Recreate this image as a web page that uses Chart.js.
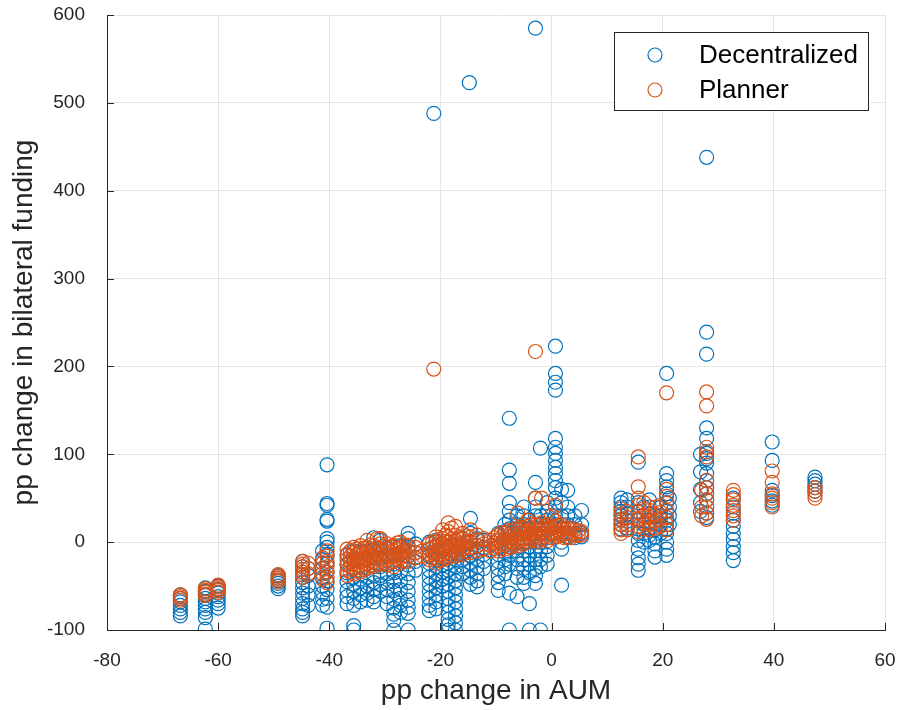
<!DOCTYPE html>
<html>
<head>
<meta charset="utf-8">
<script src="https://cdn.jsdelivr.net/npm/chart.js@4.4.1/dist/chart.umd.min.js"></script>
<style>
  html, body { margin: 0; padding: 0; background: #fff; }
  #wrap { width: 901px; height: 710px; }
</style>
</head>
<body>
<div id="wrap"><canvas id="scatterChart" width="901" height="710"></canvas></div>
<script>
// tick labels
const xTicks = [-80, -60, -40, -20, 0, 20, 40, 60];
const yTicks = [-100, 0, 100, 200, 300, 400, 500, 600];

// Decentralized: column x positions and the y values read in each column
const decColX = [
  -66.8, -62.3, -60.0, -49.2, -44.8, -43.8, -41.2, -40.4,
  -36.8, -35.6, -34.4, -33.2, -32.0, -30.8, -29.6, -28.4, -27.2, -25.8, -24.5,
  -22.0, -21.2, -20.8, -19.6, -18.6, -17.3, -16.0, -14.8, -14.6, -13.4, -12.2,
  -9.6, -8.4, -7.6, -6.2, -5.0, -4.0, -2.9, -2.0, -0.8, 0.7, 1.8, 2.9, 4.2, 5.4,
  12.5, 13.6, 15.6, 16.6, 17.6, 18.6, 19.6, 20.7, 21.2, 26.8, 27.9, 32.7, 39.7, 47.4
];
const decColY = [
  [-60, -64, -68, -72, -76, -80, -84],
  [-52, -56, -60, -64, -68, -72, -76, -80, -86, -99],
  [-50, -54, -58, -62, -66, -70, -75],
  [-38, -41, -44, -47, -50, -53],
  [-22, -28, -34, -40, -46, -52, -58, -64, -70, -76, -80, -84],
  [-30, -38, -50, -60, -72],
  [-10, -20, -30, -40, -50, -58, -65, -72],
  [88, 44, 42, 26, 24, 4, 0, -6, -14, -24, -34, -44, -54, -64, -74, -98],
  [-15, -25, -35, -45, -55, -62, -70],
  [-10, -20, -30, -40, -48, -56, -64, -72, -95, -100],
  [-12, -22, -32, -42, -52, -60, -68],
  [-10, -20, -30, -40, -50, -58, -66],
  [5, -8, -18, -28, -38, -46, -54, -62, -68],
  [2, -8, -18, -28, -38, -48, -56],
  [-6, -16, -26, -36, -46, -54, -62, -70],
  [-5, -15, -25, -35, -45, -55, -65, -75, -82, -89, -100],
  [-4, -14, -24, -34, -44, -54, -64, -72, -80],
  [10, 4, -6, -16, -26, -36, -46, -56, -66, -74, -81, -100],
  [-2, -12, -22, -32],
  [0, -8, -16, -24, -32, -40, -48, -56, -64, -72, -78],
  [488],
  [2, -4, -12, -20, -28, -36, -44, -52, -60, -68, -76],
  [-2, -10, -18, -26, -34, -42, -50],
  [0, -8, -16, -24, -32, -40, -48, -56, -64, -72, -80, -88, -94, -100],
  [-4, -12, -20, -28, -36, -44, -52, -60, -68, -76, -84, -92, -100],
  [4, -4, -12, -20, -28, -36],
  [523],
  [27, 10, 0, -8, -16, -24, -32, -40, -48],
  [4, -4, -12, -20, -28, -36, -44, -51],
  [2, -6, -14, -22, -30],
  [10, 2, -6, -14, -22, -30, -38, -46, -55],
  [20, 12, 4, -4, -12, -20, -28, -36],
  [141, 82, 67, 45, 35, 25, 15, 5, -5, -15, -25, -58, -100],
  [30, 20, 10, 0, -10, -20, -30, -40, -62],
  [40, 30, 20, 10, 0, -10, -20, -30, -40, -47],
  [25, 15, 5, -5, -15, -25, -35, -70, -100],
  [585, 68, 50, 40, 30, 20, 10, 0, -10, -20, -30, -38, -47],
  [107, 30, 20, 10, 0, -10, -20, -28, -100],
  [45, 35, 25, 15, 5, -5, -15, -25],
  [223, 192, 182, 173, 118, 108, 101, 93, 85, 78, 70, 62, 50, 40, 30, 20, 10],
  [60, 45, 30, 20, 10, 0, -8, -49],
  [59, 40, 30, 20, 10, 5],
  [30, 20, 10, 5],
  [36, 20, 10, 6],
  [50, 45, 40, 35, 30, 25, 20, 15],
  [48, 40, 32, 24, 16],
  [91, 45, 35, 25, 15, 10, 2, -8, -18, -25, -32],
  [40, 30, 20, 10, 0],
  [48, 40, 32, 24, 16, 8, 2],
  [30, 22, 14, 6, -2, -10, -17],
  [40, 30, 20, 10],
  [192, 78, 70, 63, 55, 45, 35, 25, 15, 10, 0, -8, -15],
  [50, 40, 30, 20],
  [100, 80, 60, 45, 35],
  [438, 239, 214, 130, 118, 101, 95, 90, 78, 70, 62, 55, 48, 40, 33, 28],
  [50, 40, 33, 25, 18, 10, 3, -5, -12, -21],
  [114, 93, 59, 53, 47, 42],
  [74, 70, 66, 62, 58]
];

// Planner: column x positions and y values
const plnColX = [
  -66.8, -62.3, -60.0, -49.2, -44.8, -43.8, -41.2, -40.4,
  -36.8, -36.2, -35.6, -35.0, -34.4, -33.8, -33.2, -32.6, -32.0, -31.4, -30.8, -30.2,
  -29.6, -29.0, -28.4, -27.8, -27.2, -26.5, -25.8, -24.5, -23.2,
  -22.0, -21.4, -21.2, -20.8, -20.2, -19.6, -19.1, -18.6, -18.0, -17.3, -16.7, -16.0,
  -15.3, -14.6, -13.4, -12.2, -11.0, -10.3,
  -9.6, -9.0, -8.4, -7.8, -7.2, -6.7, -6.1, -5.6, -5.0, -4.3, -3.6, -2.9, -2.4,
  -1.8, -1.3, -0.7, 0.0, 0.7, 1.2, 1.8, 2.3, 2.9, 3.5, 4.2, 4.8, 5.4,
  12.5, 13.6, 15.6, 16.6, 17.6, 18.6, 19.6, 20.7, 27.0, 27.9, 32.7, 39.7, 47.4
];
const plnColY = [
  [-60, -62, -64, -66],
  [-53, -55, -57, -59, -61],
  [-49, -51, -53, -55, -57],
  [-37, -39, -41, -43, -45],
  [-22, -25, -28, -31, -34, -37, -40],
  [-24, -30, -36],
  [-18, -24, -30, -36, -42],
  [-10, -16, -22, -28, -34, -40, -46],
  [-8, -14, -20, -26, -32, -38],
  [-10, -16, -22, -28, -34],
  [-6, -12, -18, -24, -30, -36],
  [-8, -14, -20, -26, -32],
  [-4, -10, -16, -22, -28, -34],
  [-7, -13, -19, -25, -31],
  [2, -6, -12, -18, -24, -30],
  [-3, -9, -15, -21, -27],
  [-4, -10, -16, -22, -28],
  [4, -7, -13, -19, -25],
  [4, -2, -8, -14, -20, -26],
  [-5, -11, -17, -23],
  [-2, -8, -14, -20, -26],
  [-5, -11, -17, -23],
  [-4, -10, -16, -22, -28],
  [-1, -7, -13, -19],
  [0, -6, -12, -18, -24],
  [-3, -9, -15, -21],
  [-4, -10, -16, -22],
  [-6, -12, -18],
  [-10, -16],
  [-2, -8, -14, -20],
  [0, -6, -12, -18],
  [197],
  [6, 0, -6, -12, -18, -24],
  [3, -3, -9, -15, -21],
  [14, 4, -2, -8, -14, -20],
  [8, 1, -5, -11, -17],
  [22, 12, 6, 0, -6, -12, -18],
  [16, 3, -3, -9, -15],
  [18, 8, 2, -4, -10, -16],
  [5, -1, -7, -13],
  [10, 4, -2, -8, -14],
  [7, 1, -5, -11],
  [14, 6, 0, -6, -12],
  [8, 2, -4, -10],
  [4, -2, -8],
  [2, -4, -10],
  [5, -1, -7],
  [8, 2, -4, -10],
  [11, 5, -1, -7],
  [10, 4, -2, -8],
  [13, 7, 1, -5],
  [12, 6, 0, -6],
  [15, 9, 3, -3],
  [33, 14, 8, 2, -4],
  [17, 11, 5, -1],
  [16, 10, 4, -2],
  [25, 18, 12, 6, 0],
  [21, 15, 9, 3],
  [217, 50, 20, 14, 8, 2],
  [19, 13, 7, 1],
  [50, 22, 16, 10, 4],
  [18, 12, 6],
  [20, 14, 8, 2],
  [30, 17, 11, 5],
  [42, 24, 18, 12, 6],
  [19, 13, 7],
  [20, 14, 8],
  [16, 10, 5],
  [16, 10, 6],
  [15, 9, 5],
  [14, 8],
  [13, 8],
  [12, 8],
  [38, 32, 26, 20, 14, 10],
  [35, 28, 20, 14],
  [97, 63, 50, 42, 34, 26, 18, 12],
  [45, 38, 30, 22, 15],
  [36, 28, 20, 14],
  [40, 32, 24, 16],
  [42, 34, 26, 18],
  [170, 60, 52, 44, 36, 28, 20, 14],
  [59, 40, 30],
  [171, 155, 108, 103, 97, 70, 62, 55, 48, 40, 33, 26],
  [59, 54, 48, 42, 36, 30, 25],
  [81, 68, 55, 50, 45, 40],
  [62, 58, 54, 50]
];

const BLUE = '#0072BD';
const ORANGE = '#D95319';
const FONT = "'Liberation Sans', Arial, Helvetica, sans-serif";

function toPoints (colX, colY) {
  let pts = [];
  colX.forEach((x, i) => colY[i].forEach(y => pts.push({ x: x, y: y })));
  return pts;
}

// MATLAB style ticks pointing into the axes + legend box inside the plot
const matlabBits = {
  id: 'matlabBits',
  afterDraw (chart) {
    const ctx = chart.ctx;
    const xs = chart.scales.x, ys = chart.scales.y;
    const area = chart.chartArea;
    ctx.save();
    ctx.strokeStyle = '#262626';
    ctx.lineWidth = 1;
    ctx.beginPath();
    xTicks.forEach(v => {
      const px = Math.round(xs.getPixelForValue(v)) + 0.5;
      ctx.moveTo(px, area.bottom); ctx.lineTo(px, area.bottom - 7);
    });
    yTicks.forEach(v => {
      const py = Math.round(ys.getPixelForValue(v)) + 0.5;
      ctx.moveTo(area.left, py); ctx.lineTo(area.left + 7, py);
    });
    ctx.stroke();

    // legend
    const lx = 614, ly = 32, lw = 254, lh = 78;
    ctx.fillStyle = '#fff';
    ctx.fillRect(lx, ly, lw, lh);
    ctx.strokeStyle = '#262626';
    ctx.strokeRect(lx + 0.5, ly + 0.5, lw, lh);
    const items = [['Decentralized', BLUE, 55], ['Planner', ORANGE, 90]];
    items.forEach(([label, col, y]) => {
      ctx.beginPath();
      ctx.strokeStyle = col;
      ctx.lineWidth = 1.2;
      ctx.arc(655, y, 7, 0, Math.PI * 2);
      ctx.stroke();
      ctx.fillStyle = '#000';
      ctx.font = '26px ' + FONT;
      ctx.textBaseline = 'middle';
      ctx.textAlign = 'left';
      ctx.fillText(label, 699, y + 1);
    });
    ctx.restore();
  }
};

const ctx = document.getElementById('scatterChart').getContext('2d');
const chart = new Chart(ctx, {
  type: 'scatter',
  data: {
    datasets: [
      {
        label: 'Decentralized',
        data: toPoints(decColX, decColY),
        borderColor: BLUE,
        backgroundColor: 'rgba(0,0,0,0)',
        borderWidth: 1.2,
        pointRadius: 7,
        pointHoverRadius: 7,
        order: 1
      },
      {
        label: 'Planner',
        data: toPoints(plnColX, plnColY),
        borderColor: ORANGE,
        backgroundColor: 'rgba(0,0,0,0)',
        borderWidth: 1.2,
        pointRadius: 7,
        pointHoverRadius: 7,
        order: 0
      }
    ]
  },
  options: {
    responsive: false,
    animation: false,
    layout: { padding: { top: 15, right: 16, left: 0, bottom: 0 } },
    plugins: {
      legend: { display: false },
      tooltip: { enabled: false }
    },
    scales: {
      x: {
        type: 'linear',
        min: -80,
        max: 60,
        afterFit (scale) {
          scale.height = 80;
          scale.paddingLeft = 0;
          scale.paddingRight = 0;
        },
        afterBuildTicks (scale) { scale.ticks = xTicks.map(v => ({ value: v })); },
        grid: { color: '#e5e5e5', drawTicks: false },
        border: { color: '#262626', width: 1 },
        ticks: {
          color: '#262626',
          padding: 19,
          font: { family: FONT, size: 19 }
        },
        title: {
          display: true,
          text: 'pp change in AUM',
          color: '#262626',
          padding: { top: 0, bottom: 2 },
          font: { family: FONT, size: 28 }
        }
      },
      y: {
        type: 'linear',
        min: -100,
        max: 600,
        afterFit (scale) {
          scale.width = 107;
          scale.paddingTop = 0;
          scale.paddingBottom = 0;
        },
        afterBuildTicks (scale) { scale.ticks = yTicks.map(v => ({ value: v })); },
        grid: { color: '#e5e5e5', drawTicks: false },
        border: { color: '#262626', width: 1 },
        ticks: {
          color: '#262626',
          padding: 22,
          font: { family: FONT, size: 19 }
        },
        title: {
          display: true,
          text: 'pp change in bilateral funding',
          color: '#262626',
          padding: { top: 7, bottom: 0 },
          font: { family: FONT, size: 28 }
        }
      }
    }
  },
  plugins: [matlabBits]
});
</script>
</body>
</html>
